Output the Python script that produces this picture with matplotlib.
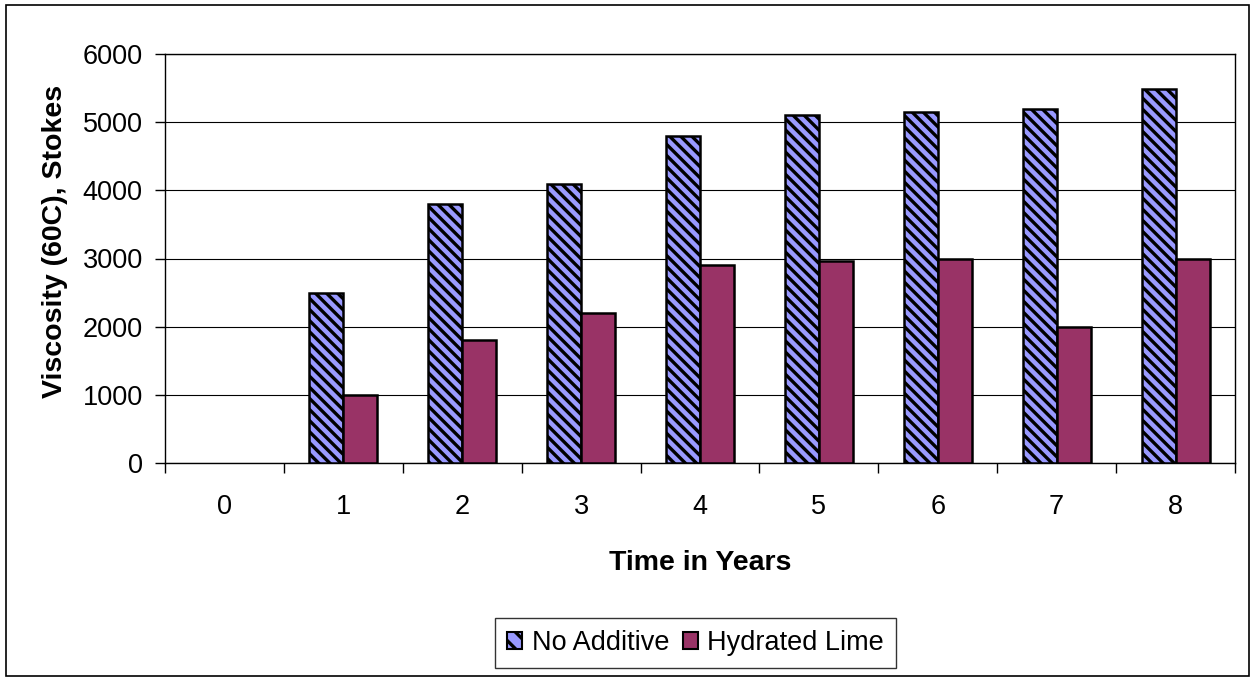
import numpy as np
import matplotlib
matplotlib.use('Agg')
import matplotlib.pyplot as plt
from matplotlib.patches import Rectangle, Patch

plt.rcParams['font.family'] = ['Liberation Sans', 'DejaVu Sans']
plt.rcParams['hatch.linewidth'] = 2.4

years = ['0', '1', '2', '3', '4', '5', '6', '7', '8']
no_additive = [0, 2500, 3800, 4100, 4800, 5100, 5150, 5200, 5480]
hydrated_lime = [0, 1000, 1800, 2200, 2900, 2970, 3000, 2000, 3000]

W, H = 1255, 681
fig = plt.figure(figsize=(W / 100, H / 100), dpi=100)
ax = fig.add_axes([165 / W, 1 - 463 / H, 1070 / W, 409 / H])

x = np.arange(len(years))
w = 0.286
na = np.array(no_additive, dtype=float)
hl = np.array(hydrated_lime, dtype=float)
# only draw bars that have a value (year 0 is empty)
m1 = na > 0
m2 = hl > 0
ax.bar(x[m1] - w / 2, na[m1], w, color='#9999FF', edgecolor='black',
       linewidth=1.8, hatch='\\\\\\', zorder=3)
ax.bar(x[m2] + w / 2, hl[m2], w, color='#993366', edgecolor='black',
       linewidth=1.8, zorder=3)

ax.set_xlim(-0.5, len(years) - 0.5)
ax.set_ylim(0, 6000)
ax.set_yticks(range(0, 6001, 1000))
ax.yaxis.grid(True, color='black', linewidth=0.8, zorder=0)

ax.set_xticks(x)
ax.set_xticklabels(years)
ax.set_xticks(np.arange(-0.5, len(years), 1), minor=True)
ax.tick_params(axis='x', which='major', length=0, pad=22, labelsize=19.5)
ax.tick_params(axis='x', which='minor', length=7, width=1, direction='out')
ax.tick_params(axis='y', length=7, width=1, direction='out', pad=9, labelsize=19.5)

for s in ax.spines.values():
    s.set_linewidth(1)
    s.set_color('black')

ax.set_xlabel('Time in Years', fontsize=20.5, fontweight='bold')
ax.xaxis.set_label_coords(0.5, -0.2127)
ax.set_ylabel('Viscosity (60C), Stokes', fontsize=20.5, fontweight='bold')
ax.yaxis.set_label_coords(-0.1028, 0.5416)
ax.yaxis.label.set_va('center')

handles = [Patch(facecolor='#9999FF', edgecolor='black', hatch='\\\\', linewidth=1.5),
           Patch(facecolor='#993366', edgecolor='black', linewidth=1.5)]
leg = fig.legend(handles, ['No Additive', 'Hydrated Lime'], loc='center',
                 bbox_to_anchor=(695.5 / W, 1 - 643 / H), ncol=2, fontsize=19.5,
                 frameon=True, fancybox=False, edgecolor='black',
                 handlelength=0.55, handleheight=0.55, handletextpad=0.35,
                 columnspacing=0.5, borderpad=0.45)
leg.get_frame().set_linewidth(1)

fig.patches.append(Rectangle((6 / W, 5 / H), 1243 / W, 671 / H,
                             transform=fig.transFigure, fill=False,
                             edgecolor='black', linewidth=1.2))

fig.savefig('out.png', dpi=100)
